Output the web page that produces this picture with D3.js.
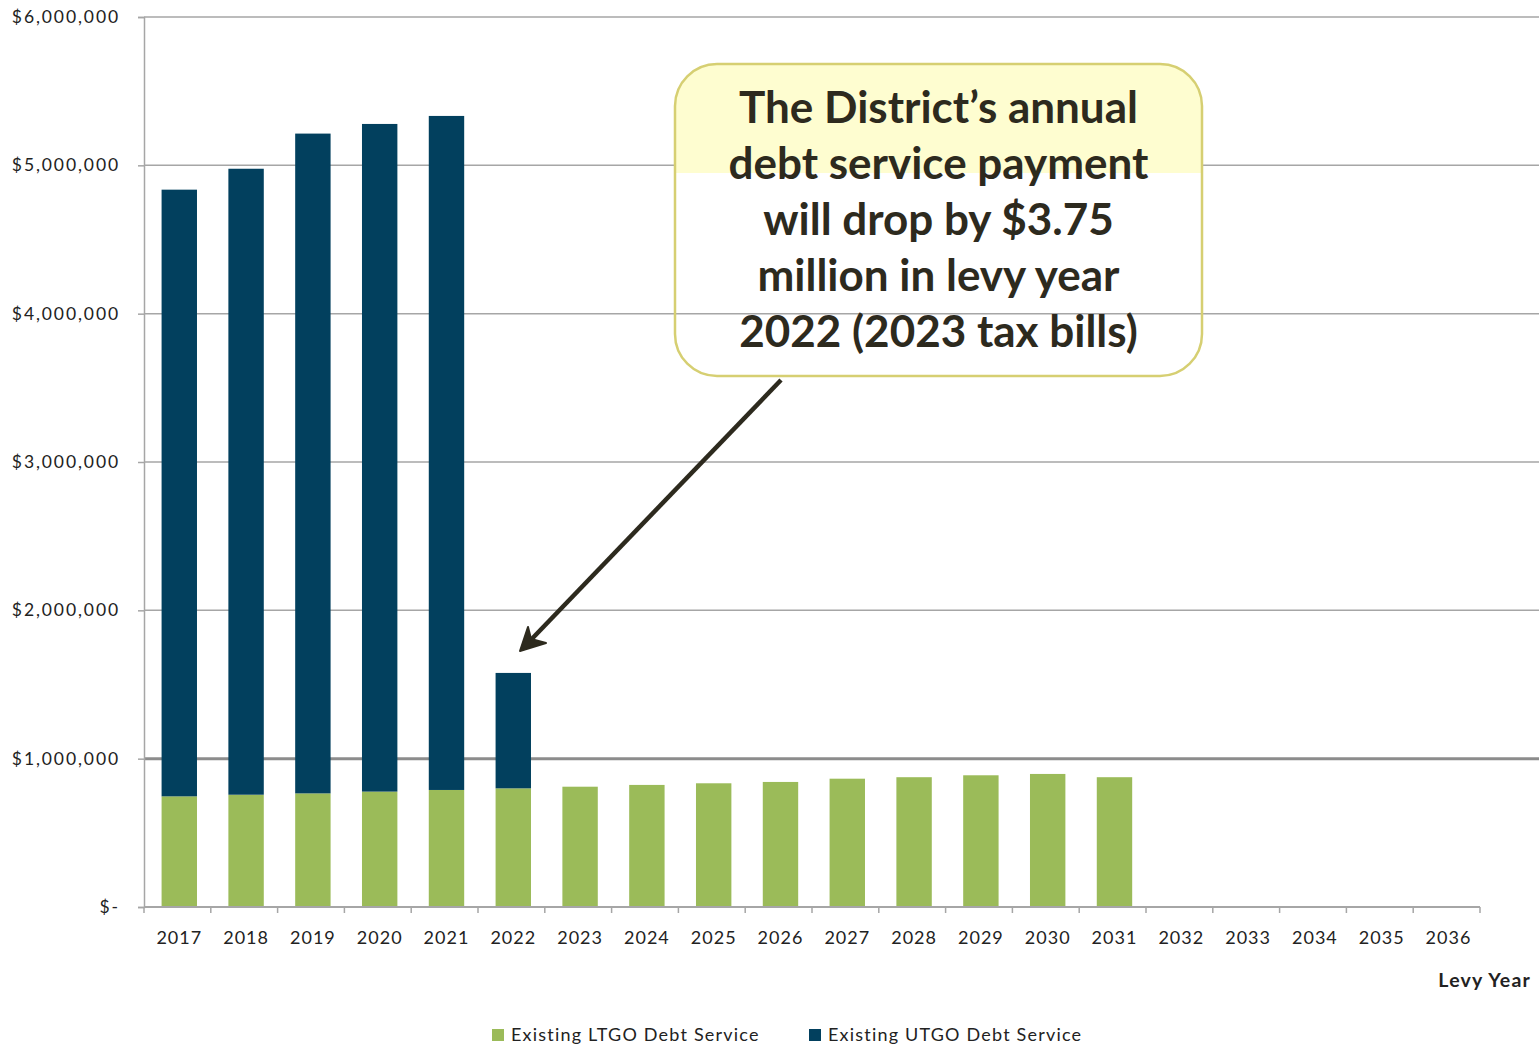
<!DOCTYPE html>
<html>
<head>
<meta charset="utf-8">
<script src="https://cdn.jsdelivr.net/npm/d3@7"></script>
<style>
  body { margin: 0; background: #fff; }
  svg { display: block; font-family: Lato, 'Open Sans', sans-serif; }
</style>
</head>
<body>
<svg id="chart"></svg>
<script>
const colours = {
  ltgo: '#9bbb59',
  utgo: '#02405e',
  grid: '#a6a6a6',
  text: '#222',
  callText: '#2d2a1e',
  callFill: '#fefdd0',
  callStroke: '#d6cf72',
};

const years = d3.range(2017, 2037).map(String);
// LTGO by levy year (empty after 2031)
const ltgo = [746000, 757000, 766000, 778000, 789000, 800000, 811000, 823000, 834000, 843000,
  865000, 875000, 888000, 897000, 875000, 0, 0, 0, 0, 0];
const utgo = [4090000, 4220000, 4448000, 4501000, 4544000, 778000, 0, 0, 0, 0,
  0, 0, 0, 0, 0, 0, 0, 0, 0, 0];
const yTicks = [0, 1e6, 2e6, 3e6, 4e6, 5e6, 6e6];
const seriesNames = ['Existing LTGO Debt Service', 'Existing UTGO Debt Service'];
const calloutLines = [
  'The District\u2019s annual',
  'debt service payment',
  'will drop by $3.75',
  'million in levy year',
  '2022 (2023 tax bills)',
];

const width = 1539;
const height = 1048;
const sel = d3.select('#chart').attr('width', width).attr('height', height);

const x = d3.scaleBand().domain(years).range([144, 1480])
  .paddingInner(0.47).paddingOuter(0.235).align(0.56);
const y = d3.scaleLinear().domain([0, 6e6]).range([907, 17]);

// gridlines
sel.append('g')
  .selectAll('line')
  .data(yTicks.slice(1))
  .join('line')
  .attr('x1', 144)
  .attr('x2', width)
  .attr('y1', d => y(d))
  .attr('y2', d => y(d))
  .attr('stroke', d => (d === 1e6 ? '#8c8c8c' : colours.grid))
  .attr('stroke-width', d => (d === 1e6 ? 3 : 1.5));

// stacked bars
const rows = years.map((yr, i) => ({ year: yr, ltgo: ltgo[i], utgo: utgo[i] }));
const stack = d3.stack().keys(['ltgo', 'utgo'])(rows);
sel.append('g')
  .selectAll('g')
  .data(stack)
  .join('g')
  .attr('fill', s => colours[s.key])
  .selectAll('rect')
  .data(s => s.filter(d => d[1] > d[0]))
  .join('rect')
  .attr('x', d => x(d.data.year))
  .attr('width', x.bandwidth())
  .attr('y', d => y(d[1]))
  .attr('height', d => y(d[0]) - y(d[1]));

// y axis
const yAxis = sel.append('g')
  .attr('transform', 'translate(144,0)')
  .call(d3.axisLeft(y)
    .tickValues(yTicks)
    .tickSize(6)
    .tickPadding(18)
    .tickFormat(d => (d === 0 ? '$-' : d3.format('$,')(d))));
yAxis.select('.domain').attr('stroke', colours.grid).attr('stroke-width', 1.5);
yAxis.selectAll('.tick line').attr('stroke', colours.grid).attr('stroke-width', 1.5);
yAxis.selectAll('text').attr('font-size', 17.5).attr('fill', colours.text)
  .attr('letter-spacing', 1.9)
  .attr('font-family', 'Lato, sans-serif');

// x axis: labels centred, ticks on band boundaries
const step = x.step();
const xAxis = sel.append('g')
  .attr('transform', `translate(0,${y(0)})`)
  .call(d3.axisBottom(x).tickSize(0).tickPadding(24));
xAxis.select('.domain').remove();
xAxis.selectAll('text').attr('font-size', 18).attr('fill', colours.text)
  .attr('letter-spacing', 1)
  .attr('font-family', 'Lato, sans-serif');
xAxis.append('line')
  .attr('x1', 144).attr('x2', 144 + step * years.length)
  .attr('stroke', colours.grid).attr('stroke-width', 2);
xAxis.selectAll('.bound')
  .data(d3.range(years.length + 1))
  .join('line')
  .attr('class', 'bound')
  .attr('x1', i => 144 + i * step)
  .attr('x2', i => 144 + i * step)
  .attr('y1', 0)
  .attr('y2', 6)
  .attr('stroke', colours.grid)
  .attr('stroke-width', 1.5);

sel.append('text')
  .attr('x', 1531)
  .attr('y', 987)
  .attr('text-anchor', 'end')
  .attr('font-size', 19.5)
  .attr('letter-spacing', 1.2)
  .attr('font-weight', 'bold')
  .attr('fill', colours.text)
  .text('Levy Year');

// legend
const legend = sel.append('g').attr('transform', 'translate(0,1041)');
const legendX = [492, 809];
seriesNames.forEach((name, i) => {
  legend.append('rect')
    .attr('x', legendX[i]).attr('y', -12).attr('width', 12).attr('height', 12)
    .attr('fill', i === 0 ? colours.ltgo : colours.utgo);
  legend.append('text')
    .attr('x', legendX[i] + 19).attr('y', 0)
    .attr('font-size', 18).attr('fill', colours.text)
    .attr('letter-spacing', 1.2)
    .text(name);
});

// callout box
const box = { x: 675, y: 64, w: 527, h: 312, r: 42 };
sel.append('clipPath').attr('id', 'topClip')
  .append('rect').attr('x', 0).attr('y', 0).attr('width', width).attr('height', 173);
sel.append('rect')
  .attr('x', box.x).attr('y', box.y).attr('width', box.w).attr('height', box.h)
  .attr('rx', box.r)
  .attr('fill', colours.callFill)
  .attr('clip-path', 'url(#topClip)');
sel.append('rect')
  .attr('x', box.x).attr('y', box.y).attr('width', box.w).attr('height', box.h)
  .attr('rx', box.r)
  .attr('fill', 'none')
  .attr('stroke', colours.callStroke)
  .attr('stroke-width', 2.5);
sel.append('g')
  .selectAll('text')
  .data(calloutLines)
  .join('text')
  .attr('x', box.x + box.w / 2)
  .attr('y', (d, i) => 123 + i * 56)
  .attr('text-anchor', 'middle')
  .attr('font-size', 44)
  .attr('font-weight', 'bold')
  .attr('fill', colours.callText)
  .text(d => d);

// arrow pointing at the 2022 bar
const tip = [520, 651];
const tail = [781, 380];
sel.append('line')
  .attr('x1', tail[0]).attr('y1', tail[1])
  .attr('x2', tip[0] + 6).attr('y2', tip[1] - 6)
  .attr('stroke', colours.callText)
  .attr('stroke-width', 4.5);
sel.append('path')
  .attr('d', `M${tip[0]},${tip[1]} L${tip[0] + 8},${tip[1] - 24} L${tip[0] + 11},${tip[1] - 12} L${tip[0] + 26},${tip[1] - 8} Z`)
  .attr('fill', colours.callText)
  .attr('stroke', colours.callText)
  .attr('stroke-width', 2)
  .attr('stroke-linejoin', 'round');
</script>
</body>
</html>
